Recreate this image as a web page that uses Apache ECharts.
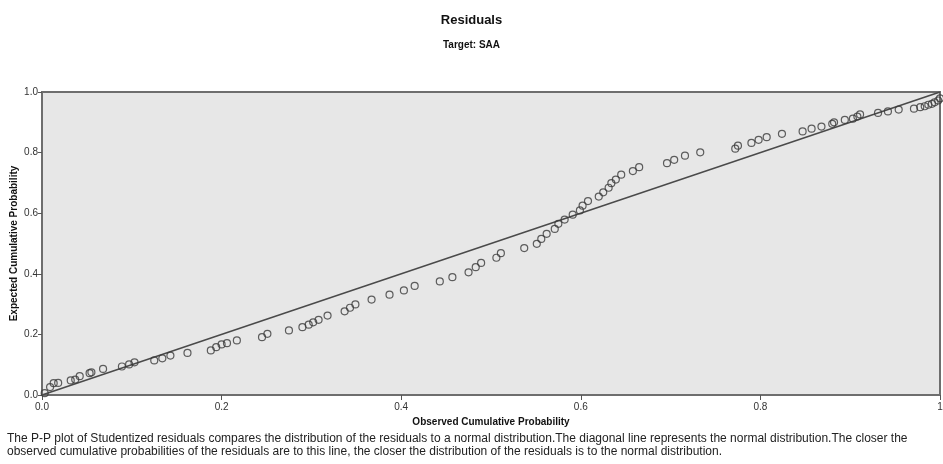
<!DOCTYPE html>
<html>
<head>
<meta charset="utf-8">
<title>Residuals P-P plot</title>
<script src="https://cdn.jsdelivr.net/npm/echarts@6/dist/echarts.min.js"></script>
<style>
  html, body { margin: 0; padding: 0; background: #fff; }
  #ppPlot { width: 943px; height: 464px; }
</style>
</head>
<body>
<div id="ppPlot"></div>
<script>
// observed cumulative probability (x) and expected cumulative probability (y)
var observed = [
  0.003, 0.009, 0.013, 0.018, 0.032, 0.037, 0.042, 0.053, 0.055, 0.068,
  0.089, 0.097, 0.103, 0.125, 0.134, 0.143, 0.162,
  0.188, 0.194, 0.200, 0.206, 0.217, 0.245, 0.251, 0.275, 0.290, 0.297,
  0.302, 0.308, 0.318, 0.337, 0.343, 0.349,
  0.367, 0.387, 0.403, 0.415, 0.443, 0.457, 0.475, 0.483, 0.489, 0.506, 0.511,
  0.537, 0.551, 0.556, 0.562, 0.571, 0.575, 0.582, 0.591, 0.599, 0.602,
  0.608, 0.620, 0.625, 0.631, 0.634, 0.639, 0.645, 0.658, 0.665, 0.696, 0.704,
  0.716, 0.733, 0.772, 0.775, 0.790, 0.798, 0.807, 0.824, 0.847, 0.857, 0.868,
  0.880, 0.882, 0.894, 0.903, 0.908, 0.911, 0.931, 0.942, 0.954,
  0.971, 0.978, 0.983, 0.987, 0.991, 0.994, 0.998, 1.0
];
var expected = [
  0.006, 0.026, 0.039, 0.040, 0.048, 0.051, 0.062, 0.072, 0.075, 0.086,
  0.094, 0.101, 0.108, 0.114, 0.121, 0.130, 0.139,
  0.147, 0.158, 0.167, 0.171, 0.180, 0.191, 0.202, 0.213, 0.224, 0.232,
  0.240, 0.248, 0.262, 0.276, 0.288, 0.299,
  0.315, 0.331, 0.345, 0.360, 0.375, 0.389, 0.405, 0.422, 0.436, 0.453, 0.468,
  0.485, 0.499, 0.515, 0.532, 0.548, 0.565, 0.579, 0.595, 0.609, 0.625,
  0.640, 0.655, 0.669, 0.684, 0.699, 0.711, 0.727, 0.739, 0.752, 0.765, 0.776,
  0.790, 0.801, 0.813, 0.823, 0.832, 0.842, 0.851, 0.862, 0.870, 0.879, 0.886,
  0.895, 0.900, 0.908, 0.912, 0.919, 0.926, 0.931, 0.936, 0.942,
  0.945, 0.950, 0.953, 0.958, 0.961, 0.966, 0.972, 0.979
];
// the normal-distribution reference line
var diagonal = [[0, 0], [1, 1]];
var xTickLabels = ['0.0', '0.2', '0.4', '0.6', '0.8', '1'];
var yTickLabels = ['0.0', '0.2', '0.4', '0.6', '0.8', '1.0'];

var noteText = 'The P-P plot of Studentized residuals compares the distribution of the residuals to a normal distribution.The diagonal line represents the normal distribution.The closer the\n' +
  'observed cumulative probabilities of the residuals are to this line, the closer the distribution of the residuals is to the normal distribution.';

var points = [];
for (var i = 0; i < observed.length; i++) {
  points.push([observed[i], expected[i]]);
}

var font = '"Liberation Sans Narrow", "Liberation Sans", Arial, sans-serif';
var chart = echarts.init(document.getElementById('ppPlot'));

var option = {
  animation: false,
  backgroundColor: '#fff',
  title: [
    {
      text: 'Residuals',
      left: 'center',
      top: 9,
      textStyle: { fontFamily: font, fontSize: 13, fontWeight: 'bold', color: '#111' }
    },
    {
      text: 'Target: SAA',
      left: 'center',
      top: 35,
      textStyle: { fontFamily: font, fontSize: 10, fontWeight: 'bold', color: '#111' }
    },
    {
      text: noteText,
      left: 2,
      top: 427,
      textStyle: { fontFamily: font, fontSize: 12, fontWeight: 'normal', color: '#222', lineHeight: 13 }
    }
  ],
  grid: {
    left: 42,
    right: 3,
    top: 92,
    bottom: 69,
    outerBoundsMode: 'none',
    show: true,
    backgroundColor: '#e7e7e7',
    borderColor: '#6e6e6e',
    borderWidth: 2
  },
  xAxis: {
    type: 'value',
    min: 0,
    max: 1,
    interval: 0.2,
    name: 'Observed Cumulative Probability',
    nameLocation: 'middle',
    nameGap: 18,
    nameTextStyle: { fontFamily: font, fontSize: 10, fontWeight: 'bold', color: '#111' },
    splitLine: { show: false },
    axisLine: { show: true, lineStyle: { color: '#6e6e6e', width: 2 } },
    axisTick: { show: true, length: 5, lineStyle: { color: '#555' } },
    axisLabel: {
      fontFamily: font, fontSize: 10, color: '#333', margin: 7,
      formatter: function (v) { return xTickLabels[Math.round(v * 5)]; }
    }
  },
  yAxis: {
    type: 'value',
    min: 0,
    max: 1,
    interval: 0.2,
    name: 'Expected Cumulative Probability',
    nameLocation: 'middle',
    nameGap: 23,
    nameMoveOverlap: false,
    nameTextStyle: { fontFamily: font, fontSize: 10, fontWeight: 'bold', color: '#111' },
    splitLine: { show: false },
    axisLine: { show: true, lineStyle: { color: '#6e6e6e', width: 2 } },
    axisTick: { show: true, length: 4, lineStyle: { color: '#555' } },
    axisLabel: {
      fontFamily: font, fontSize: 10, color: '#333', margin: 4,
      formatter: function (v) { return yTickLabels[Math.round(v * 5)]; }
    }
  },
  series: [
    {
      name: 'Normal',
      type: 'line',
      data: diagonal,
      symbol: 'none',
      lineStyle: { color: '#4a4a4a', width: 1.5 },
      silent: true,
      z: 2
    },
    {
      name: 'Residuals',
      type: 'scatter',
      data: points,
      symbol: 'circle',
      symbolSize: 7,
      itemStyle: { color: 'rgba(0,0,0,0)', borderColor: '#3a3a3a', borderWidth: 1.2 },
      z: 3
    }
  ]
};

option && chart.setOption(option);
</script>
</body>
</html>
